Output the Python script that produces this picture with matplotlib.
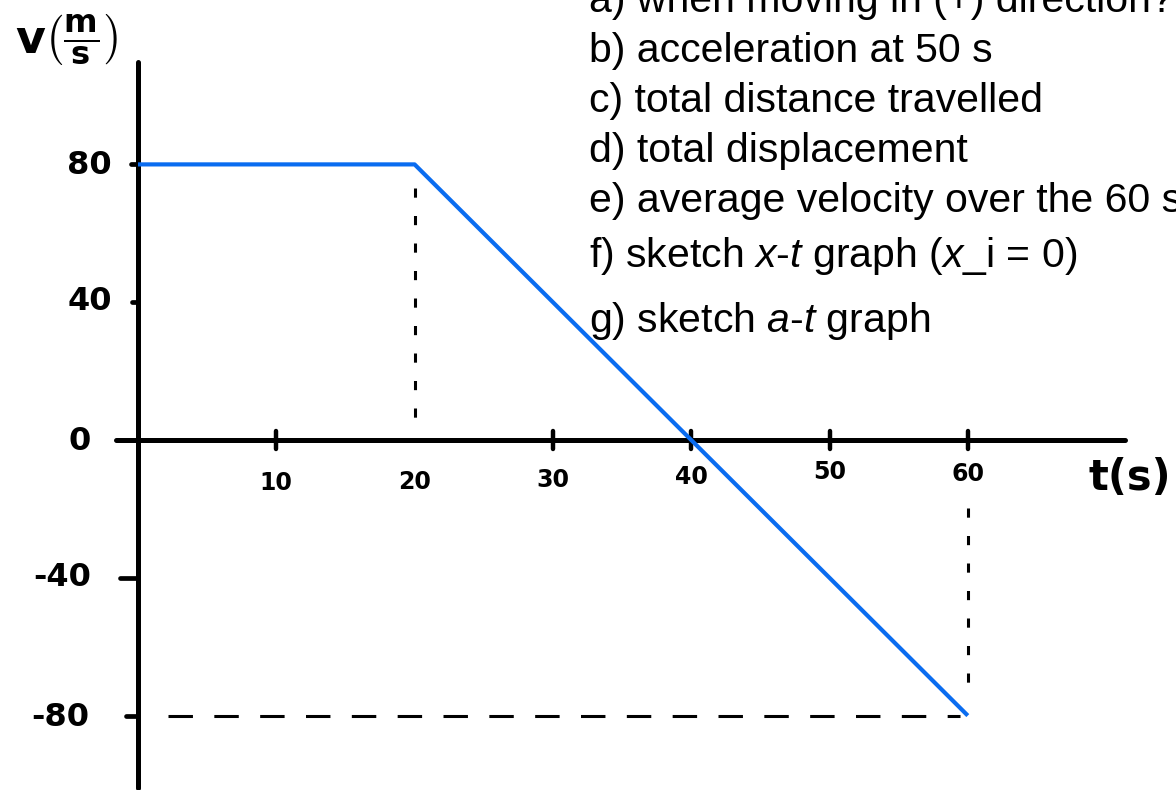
import matplotlib
matplotlib.use("Agg")
import matplotlib.pyplot as plt

# velocity-time profile
t_pts = [0, 20, 60]
v_pts = [80, 80, -80]

x_ticks = [10, 20, 30, 40, 50, 60]
x_tick_labels = ["10", "20", "30", "40", "50", "60"]
y_ticks = [80, 40, 0, -40, -80]
y_tick_labels = ["80", "40", "0", "-40", "-80"]

questions = [
    "a) when moving in (+) direction?",
    "b) acceleration at 50 s",
    "c) total distance travelled",
    "d) total displacement",
    "e) average velocity over the 60 s",
    "f) sketch $x$-$t$ graph ($x$_i = 0)",
    "g) sketch $a$-$t$ graph",
]

plt.rcParams["mathtext.fontset"] = "custom"
plt.rcParams["mathtext.rm"] = "Liberation Sans"
plt.rcParams["mathtext.it"] = "Liberation Sans:italic"
plt.rcParams["mathtext.bf"] = "DejaVu Sans:bold"

W, H = 1176, 790
fig = plt.figure(figsize=(W / 100, H / 100), dpi=100)
ax = fig.add_axes([0, 0, 1, 1])
ax.axis("off")

# pixel-based scale: t=0 at x=138, 13.83 px per second; v=0 at y=440, 3.445 px per unit
px_t, x0 = 13.83, 138
px_v, y0 = 3.445, 440
ax.set_xlim(-x0 / px_t, (W - x0) / px_t)
ax.set_ylim(-(H - y0) / px_v, y0 / px_v)

def tx(px):
    return (px - x0) / px_t

def vy(py):
    return (y0 - py) / px_v

hand = dict(fontfamily="DejaVu Sans", fontweight="bold", color="black")

# axes
ax.plot([0, 0], [vy(62), vy(788)], color="black", lw=3.6, solid_capstyle="round")
ax.plot([tx(116), tx(1125)], [0, 0], color="black", lw=3.6, solid_capstyle="round")

# x tick marks
for t in x_ticks:
    if t == 20:
        continue
    ax.plot([t, t], [2.6, -2.6], color="black", lw=3.2, solid_capstyle="round")

# y tick marks
tick_start = {80: 131, 40: 132, -40: 120, -80: 126}
for v in y_ticks:
    if v == 0:
        continue
    ax.plot([tx(tick_start[v]), 0], [v, v], color="black", lw=3.4,
            solid_capstyle="round")

# guide lines
ax.plot([20, 20], [vy(188), vy(432)], color="black", lw=2.2, dashes=(3, 6))
ax.plot([60, 60], [vy(508), vy(700)], color="black", lw=2.2, dashes=(3, 6))
ax.plot([tx(168), tx(960)], [-80, -80], color="black", lw=2.2, dashes=(8, 7))

# velocity profile
ax.plot(t_pts, v_pts, color="#0a6cf0", lw=3.0, solid_capstyle="butt", zorder=5)

# hand-lettered tick labels
y_label_x = {80: 89, 40: 90, 0: 80, -40: 62, -80: 60}
y_label_y = {80: 165, 40: 302, 0: 442, -40: 578, -80: 718}
for v, lab in zip(y_ticks, y_tick_labels):
    ax.text(tx(y_label_x[v]), vy(y_label_y[v]), lab, ha="center", va="center",
            fontsize=23, **hand)

x_label_y = {10: 483, 20: 482, 30: 480, 40: 477, 50: 472, 60: 474}
for t, lab in zip(x_ticks, x_tick_labels):
    ax.text(t, vy(x_label_y[t]), lab, ha="center", va="center",
            fontsize=17, **hand)

ax.text(tx(1130), vy(478), "t(s)", ha="center", va="center", fontsize=30, **hand)
ax.text(tx(66), vy(40), r"v$\left(\frac{\mathbf{m}}{\mathbf{s}}\right)$",
        ha="center", va="center", fontsize=33, **hand)

# question list
baselines = [12, 62, 112, 162, 212, 267, 332]
for q, b in zip(questions, baselines):
    ax.text(tx(589), vy(b), q, ha="left", va="baseline", fontsize=29.5,
            fontfamily="Liberation Sans", color="black")

fig.savefig("out.png", dpi=100)
